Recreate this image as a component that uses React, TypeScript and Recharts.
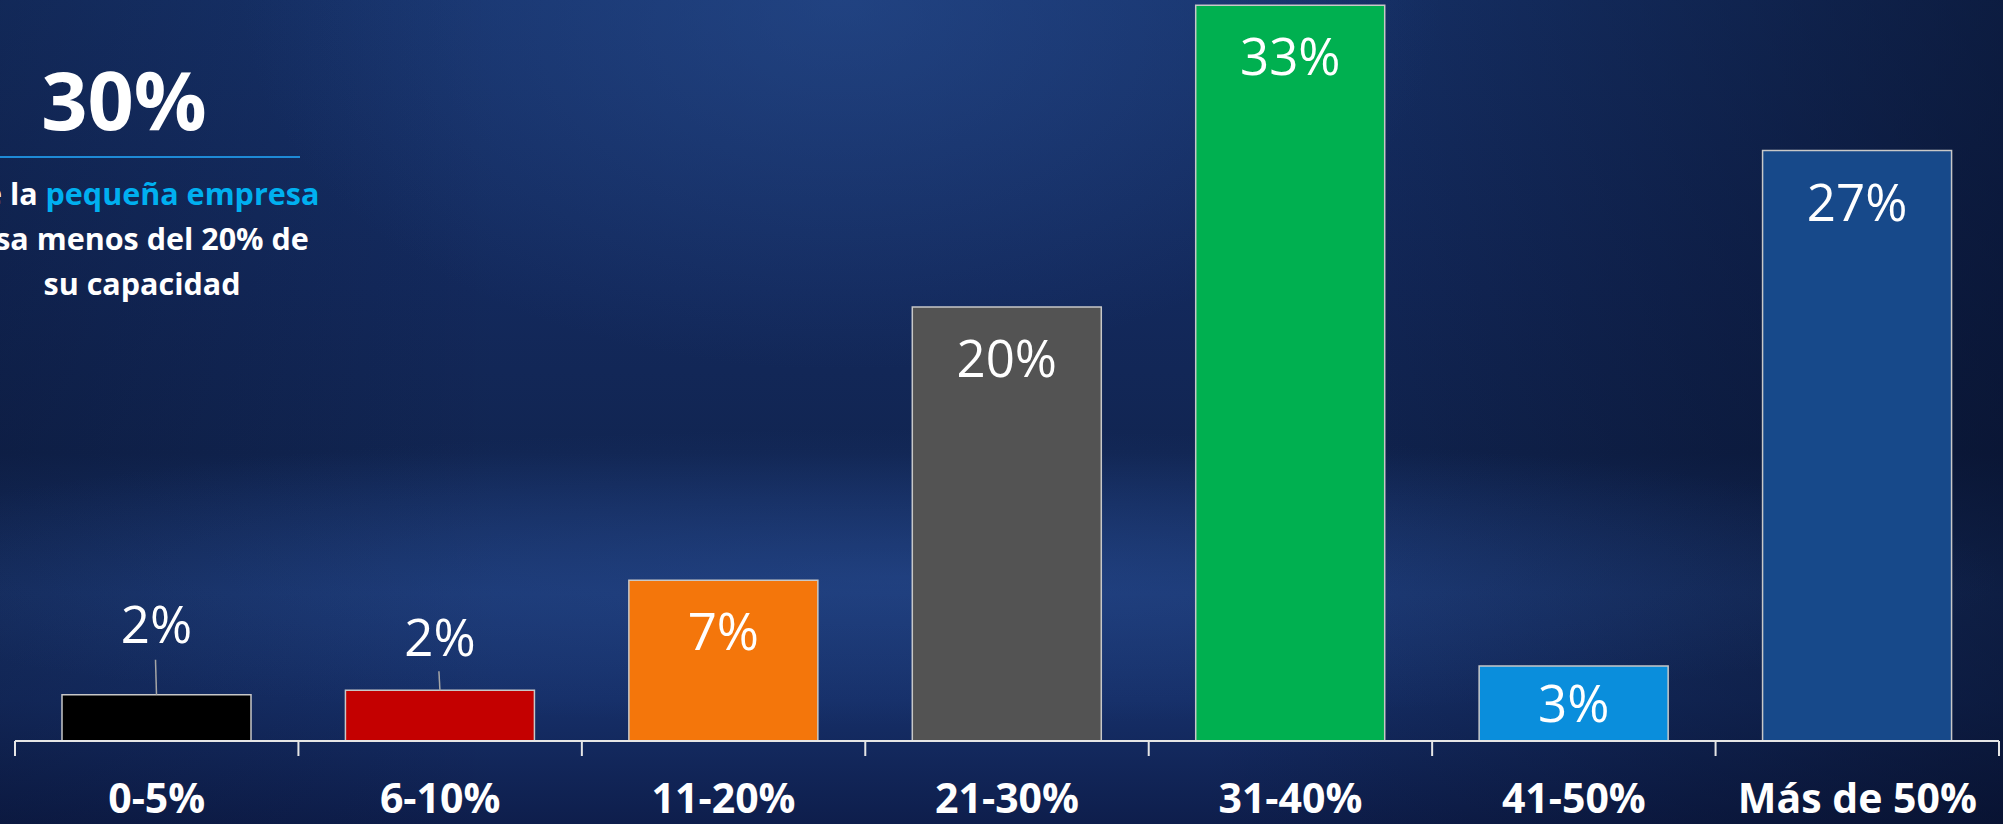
import React from "react";
import { BarChart, Bar, XAxis, YAxis, Cell, LabelList } from "recharts";

// ---- data ----
const categories = ["0-5%", "6-10%", "11-20%", "21-30%", "31-40%", "41-50%", "Más de 50%"];
const shares = [2.1, 2.3, 7.3, 19.7, 33.4, 3.4, 26.8];
const shareLabels = ["2%", "2%", "7%", "20%", "33%", "3%", "27%"];
const barColors = ["#000000", "#C40000", "#F4760B", "#535353", "#00B050", "#0A8EDC", "#17498A"];

const headline = "30%";
const captionLine1a = "de la ";
const captionLine1b = "pequeña empresa";
const captionLine2 = "usa menos del 20% de";
const captionLine3 = "su capacidad";

const chartData = categories.map((c, i) => ({ cat: c, share: shares[i] }));

// manual outside-label layout for very short bars (leader-line labels)
const outsideLabel: Record<number, { text: number; line: number }> = {
  0: { text: 52, line: 35 },
  1: { text: 34, line: 19 },
};

const FONT = "'Open Sans', 'Liberation Sans', sans-serif";
const CHART_W = 2003;
const MARGIN = { top: 3, right: 4, left: 15, bottom: 0 };
const HALF_BAND = (CHART_W - MARGIN.left - MARGIN.right) / categories.length / 2;

const ValueLabel = (p: any) => {
  const { x, y, width, height, index } = p;
  const cx = Number(x) + Number(width) / 2;
  const top = Number(y);
  const h = Number(height);
  const txt = shareLabels[index];
  const o = outsideLabel[index];
  const common = {
    x: cx,
    textAnchor: "middle" as const,
    fill: "#ffffff",
    fontFamily: FONT,
    fontSize: 51,
  };
  if (o) {
    return (
      <g>
        <line x1={cx - 1} y1={top - o.line} x2={cx} y2={top} stroke="#a6a6a6" strokeWidth={1.5} />
        <text {...common} y={top - o.text}>{txt}</text>
      </g>
    );
  }
  if (h < 100) {
    return <text {...common} y={top + h / 2 + 18}>{txt}</text>;
  }
  return <text {...common} y={top + 70}>{txt}</text>;
};

const CatTick = (p: any) => {
  const { x, y, payload, index } = p;
  const half = payload && typeof payload.offset === "number" && payload.offset > 0 ? payload.offset : HALF_BAND;
  const ax = Number(x);
  const ay = Number(y);
  const isLast = index === categories.length - 1;
  return (
    <g>
      <line x1={ax - half} y1={ay} x2={ax - half} y2={ay + 15} stroke="#e6e6e6" strokeWidth={2} />
      {isLast && (
        <line x1={ax + half} y1={ay} x2={ax + half} y2={ay + 15} stroke="#e6e6e6" strokeWidth={2} />
      )}
      <text
        x={ax}
        y={ay + 72}
        textAnchor="middle"
        fill="#ffffff"
        fontFamily={FONT}
        fontWeight={700}
        fontSize={41}
      >
        {payload.value}
      </text>
    </g>
  );
};

export default function App() {
  return (
    <div
      style={{
        position: "absolute",
        left: 0,
        top: 0,
        width: 2003,
        height: 824,
        overflow: "hidden",
        background: [
          "radial-gradient(ellipse 30% 45% at 42% 0%, rgba(45,85,155,0.45), rgba(45,85,155,0) 100%)",
          "radial-gradient(ellipse 55% 18% at 45% 70%, rgba(45,85,160,0.35), rgba(45,85,160,0) 100%)",
          "linear-gradient(to right, rgba(4,10,30,0.25) 0%, rgba(4,10,30,0) 25%, rgba(4,10,30,0) 60%, rgba(4,10,30,0.55) 100%)",
          "linear-gradient(to bottom, #17336c 0%, #13295c 35%, #112552 55%, #1a3670 72%, #162f68 85%, #0e1e4c 100%)",
        ].join(", "),
      }}
    >
      <svg width={2003} height={824} style={{ position: "absolute", left: 0, top: 0 }}>
        <text x={124} y={130} textAnchor="middle" fill="#ffffff" fontFamily={FONT} fontWeight={700} fontSize={81}>
          {headline}
        </text>
        <line x1={0} y1={157} x2={300} y2={157} stroke="#1E8AD6" strokeWidth={2} />
        <text x={142} y={205} textAnchor="middle" fill="#ffffff" fontFamily={FONT} fontWeight={700} fontSize={30.5}>
          <tspan>{captionLine1a}</tspan>
          <tspan fill="#00B0F0">{captionLine1b}</tspan>
        </text>
        <text x={142} y={250} textAnchor="middle" fill="#ffffff" fontFamily={FONT} fontWeight={700} fontSize={30.5}>
          {captionLine2}
        </text>
        <text x={142} y={295} textAnchor="middle" fill="#ffffff" fontFamily={FONT} fontWeight={700} fontSize={30.5}>
          {captionLine3}
        </text>
      </svg>
      <div style={{ position: "absolute", left: 0, top: 0 }}>
        <BarChart width={CHART_W} height={824} data={chartData} margin={MARGIN}>
          <YAxis hide domain={[0, 33.5]} type="number" />
          <XAxis
            dataKey="cat"
            height={83}
            axisLine={{ stroke: "#e6e6e6", strokeWidth: 2 }}
            tickLine={false}
            tickSize={0}
            tickMargin={0}
            interval={0}
            tick={CatTick}
          />
          <Bar
            dataKey="share"
            barSize={189}
            isAnimationActive={false}
            stroke="#c8c8c8"
            strokeWidth={1.5}
          >
            {chartData.map((d, i) => (
              <Cell key={d.cat} fill={barColors[i]} />
            ))}
            <LabelList dataKey="share" content={ValueLabel} />
          </Bar>
        </BarChart>
      </div>
    </div>
  );
}
